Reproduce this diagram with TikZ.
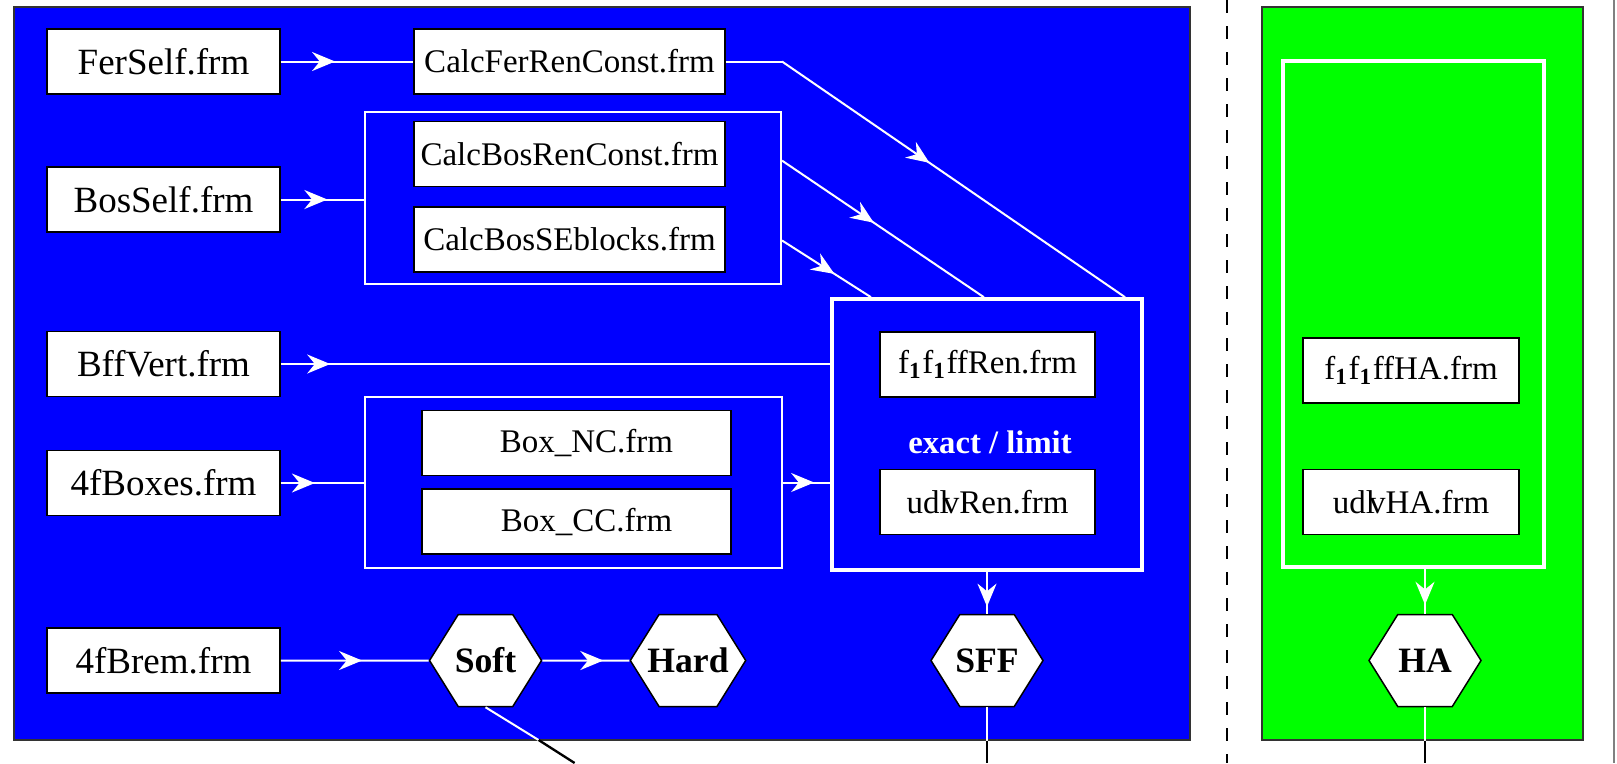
\documentclass[tikz,border=0pt]{standalone}
\usepackage{fontspec}
\setmainfont{Liberation Serif}
\usepackage{tikz}
\usetikzlibrary{arrows.meta,positioning,calc,shapes.symbols,decorations.markings}
\usepackage{xcolor}
\definecolor{panelblue}{RGB}{0,0,255}
\definecolor{panelgreen}{RGB}{0,255,0}

\begin{document}
\begin{tikzpicture}[x=0.3pt, y=-0.3pt,
  frm/.style={draw=black, fill=white, line width=0.45pt, inner sep=1pt,
              minimum width=69.9pt, minimum height=19.5pt,
              font=\fontsize{11.1}{13}\selectfont},
  calcbox/.style={frm, minimum width=93.3pt, font=\fontsize{9.9}{12}\selectfont},
  renbox/.style={frm, minimum width=64.5pt, font=\fontsize{9.9}{12}\selectfont},
  hexa/.style={signal, signal to=west and east, signal pointer angle=116,
               draw=black, fill=white, line width=0.45pt,
               inner xsep=-3.5pt, inner ysep=0pt,
               minimum width=33.6pt, minimum height=27.6pt,
               font=\fontsize{10.7}{12}\selectfont\bfseries},
  panel/.style={draw=black!80, line width=0.4pt, inner sep=0pt,
                minimum height=219.9pt},
  grp/.style={draw=white, line width=0.6pt, inner sep=0pt},
  wframe/.style={draw=white, line width=1.1pt, inner sep=0pt},
  wl/.style={white, line width=0.6pt},
  bl/.style={black, line width=0.7pt},
  midar/.style={postaction={decorate}, decoration={markings,
      mark=at position #1 with {\arrow{Stealth[length=6.9pt,width=5.7pt,inset=2.3pt]}}}}]
\useasboundingbox (0,0) rectangle (1617,763);

% panels and divider
\node[panel, fill=panelblue, minimum width=352.8pt] (bluepanel) at (602,373.5) {};
\node[panel, fill=panelgreen, minimum width=96.3pt] (greenpanel) at (1422.5,373.5) {};
\draw[black, line width=0.75pt, dash pattern=on 3.9pt off 3.9pt] (1227,0) -- (1227,763);
\draw[black!50, line width=0.4pt] (1614,0) -- (1614,763);

% input files
\node[frm] (ferself) at (163.5,61.5) {FerSelf.frm};
\node[frm] (bosself) at (163.5,199.5) {BosSelf.frm};
\node[frm] (bffvert) at (163.5,364) {BffVert.frm};
\node[frm] (fboxes)  at (163.5,483) {4fBoxes.frm};
\node[frm] (fbrem)   at (163.5,660.5) {4fBrem.frm};

% renormalisation constants
\node[calcbox] (calcfer) at (569.5,61.5) {CalcFerRenConst.frm};
\node[grp, minimum width=124.8pt, minimum height=51.6pt] (bosgrp) at (573,198) {};
\node[calcbox] (calcbos) at (569.5,154) {CalcBosRenConst.frm};
\node[calcbox] (calcse)  at (569.5,239.5) {CalcBosSEblocks.frm};

% boxes
\node[grp, minimum width=125.1pt, minimum height=51.3pt] (boxgrp) at (573.5,482.5) {};
\node[calcbox, minimum width=92.7pt] (boxnc) at (576.5,443) {\hspace{6pt}Box\_NC.frm};
\node[calcbox, minimum width=92.7pt] (boxcc) at (576.5,521.5) {\hspace{6pt}Box\_CC.frm};

% renormalised form factors
\node[wframe, minimum width=93pt, minimum height=81.3pt] (sffgrp) at (987,434.5) {};
\node[renbox] (ffren) at (987.5,364.5) {f\textsubscript{\textbf{1}}f\textsubscript{\textbf{1}}ffRen.frm};
\node[font=\fontsize{9.8}{12}\selectfont\bfseries, text=white] (exlim) at (990,442) {exact / limit};
\node[renbox] (udlvren) at (987.5,502) {udl\kern-0.18em vRen.frm\hspace{6pt}};

% hard anomaly part
\node[wframe, minimum width=78.3pt, minimum height=151.8pt] (haframe) at (1413.5,314) {};
\node[renbox, minimum width=64.8pt] (ffha) at (1411,370.5) {f\textsubscript{\textbf{1}}f\textsubscript{\textbf{1}}ffHA.frm};
\node[renbox, minimum width=64.8pt] (udlvha) at (1411,502) {udl\kern-0.18em vHA.frm};

% results
\node[hexa] (soft) at (485.5,660.5) {Soft};
\node[hexa] (hard) at (688,660.5) {Hard};
\node[hexa] (sff)  at (987,660.5) {SFF};
\node[hexa] (ha)   at (1425,660.5) {HA};

% connectors
\draw[wl, midar=0.41] (ferself) -- (calcfer);
\draw[wl] (calcfer.east) -- (calcfer.east -| bosgrp.east) coordinate (ferknee);
\draw[wl, midar=0.43] (ferknee) -- ($(sffgrp.north west)!0.94!(sffgrp.north east)$);
\draw[wl, midar=0.455] ($(bosgrp.north east)!0.285!(bosgrp.south east)$)
  -- ($(sffgrp.north west)!0.49!(sffgrp.north east)$);
\draw[wl, midar=0.59] ($(bosgrp.north east)!0.744!(bosgrp.south east)$)
  -- ($(sffgrp.north west)!0.13!(sffgrp.north east)$);
\draw[wl, midar=0.56] (bosself.east) -- (bosself.east -| bosgrp.west);
\draw[wl, midar=0.09] (bffvert.east) -- (bffvert.east -| sffgrp.west);
\draw[wl, midar=0.41] (fboxes.east) -- (fboxes.east -| boxgrp.west);
\draw[wl, midar=0.66] (boxgrp.east) -- (boxgrp.east -| sffgrp.west);
\draw[wl, midar=0.55] (fbrem) -- (soft);
\draw[wl, midar=0.70] (soft) -- (hard);
\draw[wl, midar=0.83] (sffgrp.south) -- (sff.north);
\draw[wl, midar=0.80] (ha.north |- haframe.south) -- (ha.north);

% leads leaving the panels
\coordinate (softcut) at (538.6,740);
\coordinate (softend) at (574.6,763);
\coordinate (sffcut) at (sff.south |- bluepanel.south);
\coordinate (sffend) at (987,763);
\coordinate (hacut) at (ha.south |- greenpanel.south);
\coordinate (haend) at (1425,763);
\draw[wl] (soft.south) -- (softcut);
\draw[bl] (softcut) -- (softend);
\draw[wl] (sff.south) -- (sffcut);
\draw[bl] (sffcut) -- (sffend);
\draw[wl] (ha.south) -- (hacut);
\draw[bl] (hacut) -- (haend);
\end{tikzpicture}
\end{document}
